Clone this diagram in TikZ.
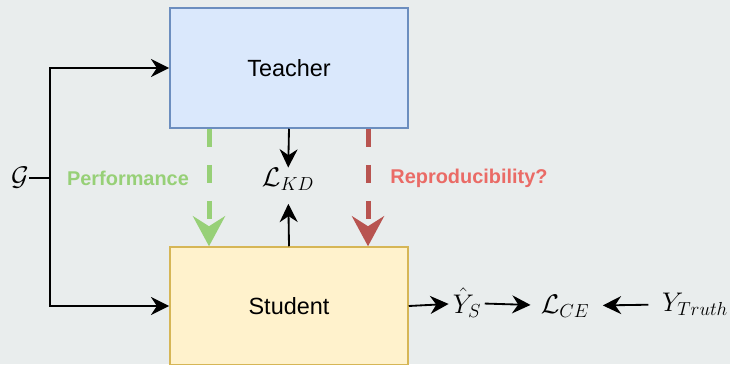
\RequirePackage{fix-cm}
\documentclass[tikz,border=0pt]{standalone}
\usepackage{fontspec}
\setmainfont{Liberation Sans}
\usetikzlibrary{arrows.meta,positioning}

\definecolor{bgcol}{HTML}{E9EDED}
\definecolor{tfill}{HTML}{DAE8FC}
\definecolor{tdraw}{HTML}{6C8EBF}
\definecolor{sfill}{HTML}{FFF2CC}
\definecolor{sdraw}{HTML}{D6B656}
\definecolor{perfcol}{HTML}{97D077}
\definecolor{reprocol}{HTML}{B85450}
\definecolor{reprotxt}{HTML}{EA6B66}

\begin{document}
\begin{tikzpicture}[x=0.3mm, y=-0.3mm,
		box/.style={draw, line width=0.45mm, minimum width=71.4mm, font=\fontsize{20}{24}\selectfont},
		lbl/.style={font=\fontsize{17}{20}\selectfont\bfseries},
		mth/.style={inner sep=0pt, font=\fontsize{23}{27}\selectfont},
		arr/.style={line width=0.55mm, -{Stealth[length=5.5mm, width=5.4mm, inset=1.8mm]}},
		fat/.style={line width=1.5mm, dash pattern=on 5.4mm off 5.4mm, -{Stealth[length=9mm, width=9.6mm, inset=3mm]}}]
	\fill[bgcol] (0,0) rectangle (730,364);
	\useasboundingbox (0,0) rectangle (730,364);
	% the two networks
	\node[box, minimum height=36mm, fill=tfill, draw=tdraw] (teacher) at (289,68) {Teacher};
	\node[box, minimum height=35.4mm, fill=sfill, draw=sdraw] (student) at (289,306) {Student};
	% input graph
	\node[mth] (g) at (20,178) {$\mathcal{G}$};
	\coordinate (split) at (50,178);
	\draw[line width=0.55mm] (g) -- (split);
	\draw[arr] (split) |- (teacher.west);
	\draw[arr] (split) |- (student.west);
	% distillation
	\draw[fat, draw=perfcol] ([xshift=-24mm]teacher.south) -- ([xshift=-24mm]student.north);
	\draw[fat, draw=reprocol] ([xshift=23.7mm]teacher.south) -- ([xshift=23.7mm]student.north);
	\node[lbl, text=perfcol] (perf) at (128,178) {Performance};
	\node[lbl, text=reprotxt] (repro) at (469,178) {Reproducibility?};
	\node[mth] (kd) at (288,179) {$\mathcal{L}_{KD}$};
	\draw[arr] (teacher.south) -- (kd);
	\draw[arr, shorten >=4mm] (student.north) -- (kd);
	% output and loss
	\node[mth] (yhat) at (467,303) {$\hat{Y}_S$};
	\node[mth] (ce) at (565,306) {$\mathcal{L}_{CE}$};
	\node[mth] (truth) at (695,304) {$Y_{Truth}$};
	\draw[arr, shorten >=1.2mm] (student.east) -- (yhat);
	\draw[arr, shorten <=1mm, shorten >=3mm] (yhat) -- (ce);
	\draw[arr, shorten <=4mm, shorten >=4mm] (truth) -- (ce);
\end{tikzpicture}
\end{document}
